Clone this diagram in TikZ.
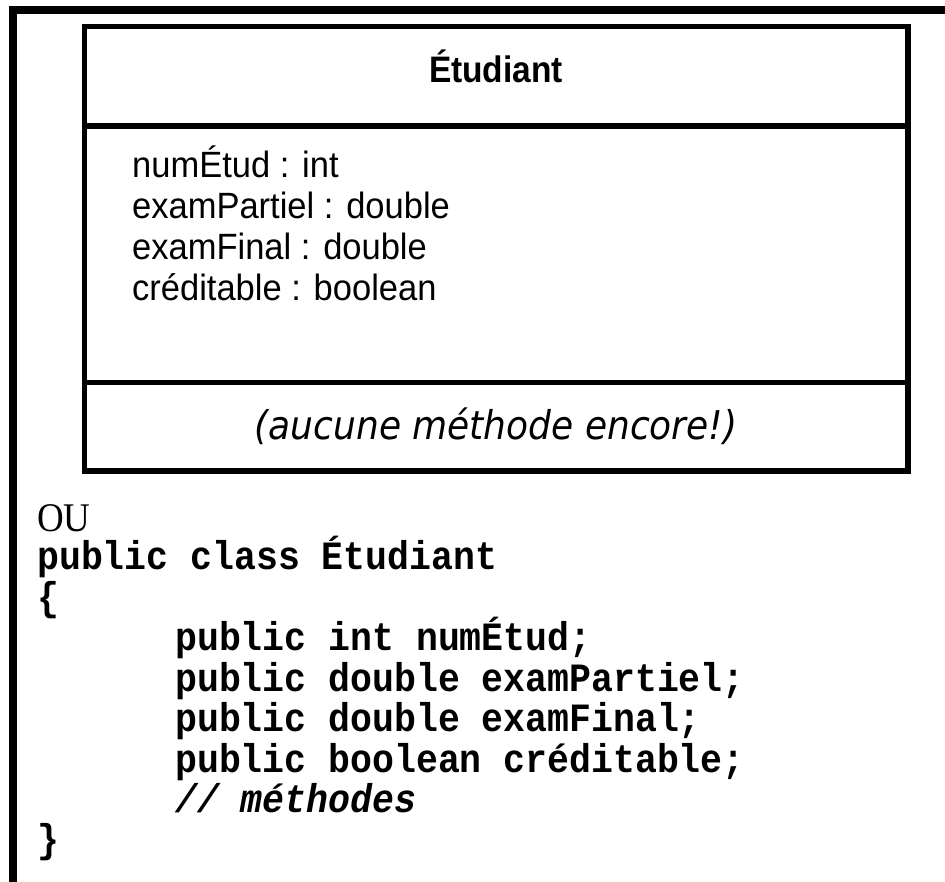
\documentclass[tikz,border=0pt]{standalone}
\usepackage{graphicx}
\usepackage{fontspec}
\setmainfont{Liberation Sans}
\newfontfamily\codefont{Liberation Mono}
\newfontfamily\timesfont{Liberation Serif}
\newfontfamily\handfont{DejaVu Sans}
\newcommand{\vst}[1]{\scalebox{1}[1.1]{#1}}
\newcommand{\vsa}[1]{\scalebox{1}[1.06]{#1}}
\begin{document}
\begin{tikzpicture}[x=1pt,y=-1pt,
  frameline/.style={line width=8pt,line join=miter},
  boxline/.style={line width=5.5pt,line join=miter},
  attr/.style={anchor=base west,inner sep=0pt,font=\fontsize{34.5}{38}\selectfont},
  code/.style={anchor=base west,inner sep=0pt,font=\codefont\bfseries\fontsize{36.5}{40}\selectfont},
]
\useasboundingbox (0,0) rectangle (945,882);
% outer frame
\draw[frameline] (13,882) -- (13,10) -- (945,10);
% class box
\draw[boxline] (84.5,26.5) rectangle (908,471);
\draw[boxline] (84.5,126) -- (908,126);
\draw[boxline] (84.5,382.5) -- (908,382.5);
% title
\node[anchor=base,inner sep=0pt,font=\bfseries\fontsize{33.5}{36}\selectfont] (title) at (496,83) {\vst{Étudiant}};
% attributes
\node[attr] (a1) at (132,178) {\vsa{numÉtud : int}};
\node[attr] (a2) at (132,219) {\vsa{examPartiel : double}};
\node[attr] (a3) at (132,260) {\vsa{examFinal : double}};
\node[attr] (a4) at (132,301) {\vsa{créditable : boolean}};
% methods
\node[anchor=base,inner sep=0pt,font=\handfont\itshape\fontsize{36}{38}\selectfont] (meth) at (496,439) {\vst{(aucune méthode encore!)}};
% code
\node[anchor=base west,inner sep=0pt,font=\timesfont\fontsize{37}{40}\selectfont] (ou) at (37,531) {\vst{OU}};
\node[code] (c1) at (37,569) {\vst{public class Étudiant}};
\node[code] (c2) at (37,610) {\vst{\{}};
\node[code] (c3) at (175,650) {\vst{public int numÉtud;}};
\node[code] (c4) at (175,691) {\vst{public double examPartiel;}};
\node[code] (c5) at (175,731) {\vst{public double examFinal;}};
\node[code] (c6) at (175,772) {\vst{public boolean créditable;}};
\node[code] (c7) at (175,812) {\vst{\itshape // méthodes}};
\node[code] (c8) at (37,852) {\vst{\}}};
\end{tikzpicture}
\end{document}
